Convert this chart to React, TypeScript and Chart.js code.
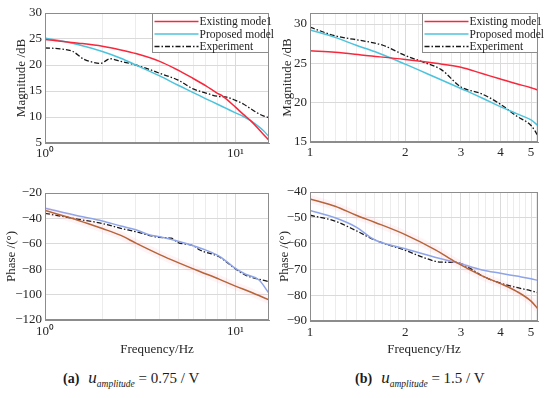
import React, { useEffect, useRef } from 'react';
import { Chart, registerables } from 'chart.js';
Chart.register(...registerables);

// ---------- labels ----------
const existingLabel = 'Existing mode1';
const proposedLabel = 'Proposed model';
const experimentLabel = 'Experiment';

// ---------- (a) u = 0.75 V : magnitude ----------
const aMagExistingF = [1, 1.5, 2, 2.5, 3, 4, 5, 6, 7, 8, 8.5, 9, 10, 11, 12, 13, 14, 15];
const aMagExistingDb = [24.9, 24.2, 23.6, 22.9, 22.2, 20.7, 19.0, 17.4, 16.0, 14.6, 14.1, 13.4, 11.9, 10.5, 9.3, 8.0, 6.7, 5.5];
const aMagProposedF = [1, 1.5, 2, 2.5, 3, 4, 5, 6, 7, 8, 9, 10, 11, 12, 13, 14, 15];
const aMagProposedDb = [25.2, 23.9, 22.6, 21.3, 20.0, 17.9, 16.1, 14.7, 13.5, 12.5, 11.6, 10.8, 10.1, 9.3, 8.4, 7.4, 6.2];
const aMagExperimentF = [1, 1.2, 1.4, 1.6, 1.8, 1.95, 2.2, 2.5, 3, 3.5, 4, 5, 5.5, 6, 7, 8, 9, 10, 11, 12, 13, 14, 15];
const aMagExperimentDb = [23.3, 23.1, 22.6, 21.1, 20.5, 20.3, 21.2, 20.7, 20.0, 19.2, 18.4, 17.1, 16.2, 15.4, 14.6, 14.0, 13.8, 13.2, 12.5, 11.6, 10.8, 10.2, 9.9];

// ---------- (a) phase ----------
const aPhExistingF = [1, 1.5, 2, 2.5, 3, 4, 5, 6.5, 8.2, 10, 12, 15];
const aPhExistingDeg = [-33.8, -41.6, -48, -53.4, -59.5, -68.5, -74.8, -81.8, -87.8, -93.3, -98, -104.2];
const aPhProposedF = [1, 1.5, 2, 2.5, 3, 3.55, 4, 5, 6, 7, 8.2, 9, 9.9, 11.3, 13.3, 15];
const aPhProposedDeg = [-32, -38.1, -42, -46, -49, -53, -54.5, -58, -61.5, -65, -69.7, -74, -79, -84, -88.5, -99];
const aPhExperimentF = [1, 1.5, 2, 2.5, 3, 3.55, 4, 4.6, 5, 6, 6.5, 8.2, 9.9, 11.3, 13, 15];
const aPhExperimentDeg = [-36, -40.7, -44, -47.8, -50.5, -53.5, -55, -55.6, -59, -61.5, -64.9, -70.2, -79.3, -84.6, -87.5, -89.8];

// ---------- (b) u = 1.5 V : magnitude ----------
const bMagExistingF = [1, 1.2, 1.5, 2, 2.5, 3, 3.5, 4, 4.5, 5, 5.26];
const bMagExistingDb = [26.6, 26.4, 26.0, 25.5, 25.0, 24.5, 23.7, 23.0, 22.4, 21.9, 21.6];
const bMagProposedF = [1, 1.2, 1.4, 1.6, 2, 2.5, 3, 3.5, 4, 4.5, 5, 5.26];
const bMagProposedDb = [29.25, 28.3, 27.3, 26.5, 24.9, 23.2, 21.8, 20.6, 19.5, 18.6, 17.8, 17.1];
const bMagExperimentF = [1, 1.2, 1.5, 1.7, 2, 2.3, 2.6, 3, 3.5, 4, 4.5, 5, 5.26];
const bMagExperimentDb = [29.6, 28.5, 27.8, 27.3, 26.0, 25.1, 24.2, 22.0, 21.1, 19.8, 18.3, 17.1, 15.8];

// ---------- (b) phase ----------
const bPhExistingF = [1, 1.2, 1.4, 1.6, 2, 2.5, 2.9, 3.5, 4, 4.5, 5, 5.26];
const bPhExistingDeg = [-42.7, -45.5, -49, -51.7, -56.5, -62.5, -67.3, -72.5, -75.5, -78.5, -82.3, -85.3];
const bPhProposedF = [1, 1.2, 1.4, 1.6, 2, 2.5, 2.9, 3.5, 4, 4.5, 5, 5.26];
const bPhProposedDeg = [-47.2, -50, -53.6, -58.5, -62, -65.4, -67.3, -70.2, -71.5, -72.6, -73.6, -74.3];
const bPhExperimentF = [1, 1.2, 1.4, 1.6, 2, 2.3, 2.6, 2.9, 3.2, 3.5, 4, 4.5, 5, 5.26];
const bPhExperimentDeg = [-49, -51.3, -55, -58.6, -62.6, -65.5, -67.2, -67.3, -69.5, -72.5, -75.3, -77, -78.3, -79.1];

// ---------- axis ticks ----------
const aXTicks = [1, 2, 3, 4, 5, 6, 7, 8, 9, 10];
const aXLabelValues = [1, 10];
const aXLabelTexts = ['10\u2070', '10\u00b9'];
const bXTicks = [1, 1.1, 1.2, 1.3, 1.4, 1.5, 1.6, 1.7, 1.8, 1.9, 2, 2.2, 2.4, 2.6, 2.8, 3, 3.2, 3.4, 3.6, 3.8, 4, 4.2, 4.4, 4.6, 4.8, 5, 5.2];
const bXLabelValues = [1, 2, 3, 4, 5];
const bXLabelTexts = ['1', '2', '3', '4', '5'];

const SERIF = '"Liberation Serif", "Times New Roman", serif';
const RED = '#f8283c';
const CYAN = '#4cc3dc';
const BROWN = '#ad5f2a';
const BLUE = '#8ea4e8';
const BLACK = '#161616';
const SHADE = 'rgba(255,150,175,0.11)';
const EXP_DASH = [5, 2, 1.5, 2];

type Series = { label: string; f: number[]; v: number[]; color: string; width: number; dash?: number[]; legend?: boolean };
type Box = { left: number; top: number; width: number; height: number };
type Area = { left: number; top: number; right: number; bottom: number };

interface PanelProps {
  box: Box;
  area: Area;
  xMin: number; xMax: number;
  xTicks: number[]; xLabelValues: number[]; xLabelTexts: string[];
  yMin: number; yMax: number; yStep: number;
  series: Series[];
  legend: boolean;
  legendWidth: number;
  xTitle?: string;
  xTitlePad?: number;
  xTickPad: number;
  yTitle: string;
  yTitlePad: number;
}

function fmtNum(v: number) {
  return v < 0 ? '\u2212' + String(Math.abs(v)) : String(v);
}

function Panel(p: PanelProps) {
  const ref = useRef<HTMLCanvasElement>(null);
  useEffect(() => {
    const { box, area } = p;
    const frame = {
      id: 'frame',
      afterDatasetsDraw(chart: any) {
        const { ctx, chartArea: a } = chart;
        ctx.save();
        ctx.strokeStyle = '#8c8c8c';
        ctx.lineWidth = 1;
        ctx.setLineDash([]);
        ctx.strokeRect(Math.round(a.left) + 0.5, Math.round(a.top) + 0.5, Math.round(a.right - a.left) - 1, Math.round(a.bottom - a.top) - 1);
        if (p.legend) {
          const w = p.legendWidth;
          const h = 39;
          const x0 = Math.round(a.right - w) + 0.5;
          const y0 = Math.round(a.top) + 0.5;
          ctx.fillStyle = '#ffffff';
          ctx.fillRect(x0, y0, w - 1, h);
          ctx.strokeStyle = '#8c8c8c';
          ctx.strokeRect(x0, y0, w - 1, h);
          const items = chart.data.datasets.filter((d: any) => d.showInLegend);
          items.forEach((d: any, i: number) => {
            const y = y0 + 8 + i * 12.5;
            ctx.beginPath();
            ctx.strokeStyle = d.borderColor;
            ctx.lineWidth = d.borderWidth;
            ctx.setLineDash(d.borderDash || []);
            ctx.moveTo(x0 + 2, y);
            ctx.lineTo(x0 + 46, y);
            ctx.stroke();
            ctx.setLineDash([]);
            ctx.fillStyle = '#1e1e1e';
            ctx.font = '11.5px ' + SERIF;
            ctx.textBaseline = 'middle';
            ctx.textAlign = 'left';
            ctx.fillText(d.label, x0 + 47, y + 0.5);
          });
        }
        ctx.restore();
      },
    };
    const isMajor = (v: number) => p.xLabelValues.some((m) => Math.abs(m - v) < 1e-9);
    const chart = new Chart(ref.current as HTMLCanvasElement, {
      type: 'line',
      data: {
        datasets: p.series.map((s) => ({
          label: s.label,
          data: s.f.map((x, i) => ({ x, y: s.v[i] })),
          borderColor: s.color,
          borderWidth: s.width,
          borderDash: s.dash || [],
          pointRadius: 0,
          fill: false,
          cubicInterpolationMode: 'monotone',
          showInLegend: s.legend !== false,
        })) as any,
      },
      options: {
        responsive: false,
        animation: false,
        devicePixelRatio: 1,
        layout: {
          padding: {
            left: 0,
            top: area.top - box.top,
            right: box.left + box.width - area.right,
            bottom: 0,
          },
        },
        plugins: { legend: { display: false }, tooltip: { enabled: false } },
        scales: {
          x: {
            type: 'logarithmic',
            min: p.xMin,
            max: p.xMax,
            afterBuildTicks: (s: any) => {
              s.ticks = p.xTicks.map((v) => ({ value: v }));
            },
            afterFit: (s: any) => {
              s.height = box.top + box.height - area.bottom;
              s.paddingLeft = 0;
              s.paddingRight = 0;
            },
            ticks: {
              autoSkip: false,
              maxRotation: 0,
              minRotation: 0,
              padding: p.xTickPad,
              color: '#262626',
              font: { family: SERIF, size: 13 },
              callback: (v: any) => {
                const idx = p.xLabelValues.findIndex((m) => Math.abs(m - Number(v)) < 1e-9);
                return idx >= 0 ? p.xLabelTexts[idx] : '';
              },
            },
            grid: {
              drawTicks: false,
              lineWidth: 1,
              color: (ctx: any) => (ctx.tick && isMajor(ctx.tick.value) ? '#dadada' : '#ececec'),
            },
            border: { display: true, color: '#8c8c8c' },
            title: {
              display: !!p.xTitle,
              text: p.xTitle || '',
              color: '#262626',
              font: { family: SERIF, size: 13 },
              padding: { top: 0, bottom: p.xTitlePad || 0 },
            },
          } as any,
          y: {
            type: 'linear',
            min: p.yMin,
            max: p.yMax,
            afterFit: (s: any) => {
              s.width = area.left - box.left;
              s.paddingTop = 0;
              s.paddingBottom = 0;
            },
            ticks: {
              stepSize: p.yStep,
              includeBounds: false,
              padding: 3,
              color: '#262626',
              font: { family: SERIF, size: 13 },
              callback: (v: any) => fmtNum(Number(v)),
            },
            grid: { drawTicks: false, lineWidth: 1, color: '#dadada' },
            border: { display: true, color: '#8c8c8c' },
            title: {
              display: true,
              text: p.yTitle,
              color: '#262626',
              font: { family: SERIF, size: 13 },
              padding: { top: p.yTitlePad, bottom: 0 },
            },
          } as any,
        },
      },
      plugins: [frame],
    } as any);
    return () => chart.destroy();
  }, []);
  return (
    <canvas
      ref={ref}
      width={p.box.width}
      height={p.box.height}
      style={{ position: 'absolute', left: p.box.left, top: p.box.top, width: p.box.width, height: p.box.height }}
    />
  );
}

function Caption({ left, tag, value }: { left: number; tag: string; value: string }) {
  return (
    <div
      style={{
        position: 'absolute',
        left,
        top: 368,
        height: 20,
        lineHeight: '20px',
        fontFamily: SERIF,
        fontSize: 15,
        color: '#1a1a1a',
        whiteSpace: 'nowrap',
      }}
    >
      <b style={{ fontSize: 14 }}>{tag}</b>
      <span style={{ display: 'inline-block', width: 9 }} />
      <i style={{ fontSize: 17 }}>u</i>
      <sub style={{ fontSize: 9.5, fontStyle: 'italic', verticalAlign: -4 }}>amplitude</sub>
      <span> = {value} / V</span>
    </div>
  );
}

export default function App() {
  const aMag: Series[] = [
    { label: existingLabel, f: aMagExistingF, v: aMagExistingDb, color: RED, width: 1.5 },
    { label: proposedLabel, f: aMagProposedF, v: aMagProposedDb, color: CYAN, width: 1.5 },
    { label: experimentLabel, f: aMagExperimentF, v: aMagExperimentDb, color: BLACK, width: 1.3, dash: EXP_DASH },
  ];
  const bMag: Series[] = [
    { label: existingLabel, f: bMagExistingF, v: bMagExistingDb, color: RED, width: 1.5 },
    { label: proposedLabel, f: bMagProposedF, v: bMagProposedDb, color: CYAN, width: 1.5 },
    { label: experimentLabel, f: bMagExperimentF, v: bMagExperimentDb, color: BLACK, width: 1.3, dash: EXP_DASH },
  ];
  const aPh: Series[] = [
    { label: existingLabel + ' shade', f: aPhExistingF, v: aPhExistingDeg, color: SHADE, width: 8, legend: false },
    { label: existingLabel, f: aPhExistingF, v: aPhExistingDeg, color: BROWN, width: 1.5 },
    { label: proposedLabel, f: aPhProposedF, v: aPhProposedDeg, color: BLUE, width: 1.5 },
    { label: experimentLabel, f: aPhExperimentF, v: aPhExperimentDeg, color: BLACK, width: 1.3, dash: EXP_DASH },
  ];
  const bPh: Series[] = [
    { label: existingLabel + ' shade', f: bPhExistingF, v: bPhExistingDeg, color: SHADE, width: 8, legend: false },
    { label: existingLabel, f: bPhExistingF, v: bPhExistingDeg, color: BROWN, width: 1.5 },
    { label: proposedLabel, f: bPhProposedF, v: bPhProposedDeg, color: BLUE, width: 1.5 },
    { label: experimentLabel, f: bPhExperimentF, v: bPhExperimentDeg, color: BLACK, width: 1.3, dash: EXP_DASH },
  ];
  return (
    <div style={{ position: 'fixed', left: 0, top: 0, width: 550, height: 398, background: '#ffffff', overflow: 'hidden' }}>
      <Panel
        box={{ left: 0, top: 0, width: 275, height: 170 }}
        area={{ left: 45, top: 13, right: 269, bottom: 143 }}
        xMin={1} xMax={15} xTicks={aXTicks} xLabelValues={aXLabelValues} xLabelTexts={aXLabelTexts}
        yMin={5} yMax={30} yStep={5}
        series={aMag} legend legendWidth={117}
        xTickPad={3}
        yTitle="Magnitude /dB" yTitlePad={14}
      />
      <Panel
        box={{ left: 275, top: 0, width: 275, height: 170 }}
        area={{ left: 310, top: 13, right: 538, bottom: 142 }}
        xMin={1} xMax={5.26} xTicks={bXTicks} xLabelValues={bXLabelValues} xLabelTexts={bXLabelTexts}
        yMin={15} yMax={31.4} yStep={5}
        series={bMag} legend legendWidth={116}
        xTickPad={3}
        yTitle="Magnitude /dB" yTitlePad={5}
      />
      <Panel
        box={{ left: 0, top: 178, width: 275, height: 184 }}
        area={{ left: 45, top: 193, right: 269, bottom: 320 }}
        xMin={1} xMax={15} xTicks={aXTicks} xLabelValues={aXLabelValues} xLabelTexts={aXLabelTexts}
        yMin={-120} yMax={-20} yStep={20}
        series={aPh} legend={false} legendWidth={0}
        xTickPad={4} xTitle="Frequency/Hz" xTitlePad={5}
        yTitle="Phase /(°)" yTitlePad={4}
      />
      <Panel
        box={{ left: 275, top: 178, width: 275, height: 184 }}
        area={{ left: 310, top: 192, right: 538, bottom: 321 }}
        xMin={1} xMax={5.26} xTicks={bXTicks} xLabelValues={bXLabelValues} xLabelTexts={bXLabelTexts}
        yMin={-90} yMax={-40} yStep={10}
        series={bPh} legend={false} legendWidth={0}
        xTickPad={4} xTitle="Frequency/Hz" xTitlePad={5}
        yTitle="Phase /(°)" yTitlePad={2}
      />
      <Caption left={63} tag="(a)" value="0.75" />
      <Caption left={355} tag="(b)" value="1.5" />
    </div>
  );
}
